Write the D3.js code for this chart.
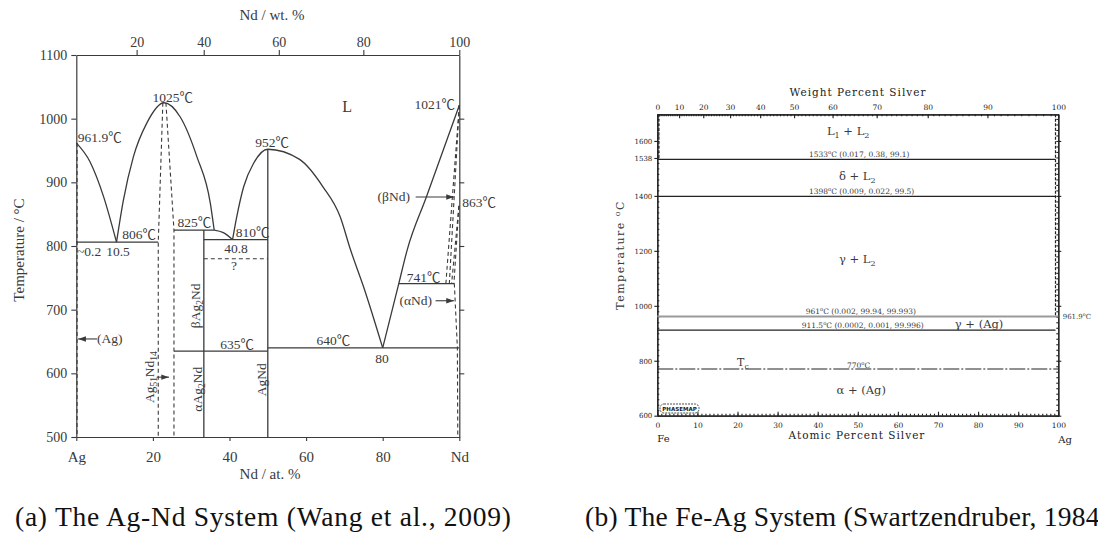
<!DOCTYPE html>
<html>
<head>
<meta charset="utf-8">
<script src="https://cdn.jsdelivr.net/npm/d3@7"></script>
<style>
body { margin: 0; background: #fff; }
svg { display: block; }
</style>
</head>
<body>
<svg width="1098" height="537"></svg>
<script>
// ---------- (a) Ag-Nd : x = at.% Nd, y = temperature (C)
var agNdTempTicks = [500, 600, 700, 800, 900, 1000, 1100];
var agNdAtTicks = [0, 20, 40, 60, 80, 100];
var agNdAtLabels = ["Ag", "20", "40", "60", "80", "Nd"];
var agNdWtTicks = [20, 40, 60, 80, 100];

// liquidus pieces
var liqAg = [[0, 961.9], [3.6, 932], [7.1, 878], [10.5, 806]];
var liqPeak = [[10.5, 806], [12.3, 872], [14.9, 940], [18.4, 993], [22.9, 1025], [27.1, 1003], [31.5, 940], [35.0, 867], [36.0, 825]];
var liqShoulder = [[36.0, 825], [38.4, 821], [40.8, 810]];
var liqAgNd = [[40.8, 810], [41.9, 846], [43.7, 893], [46.3, 930], [50, 952], [58.3, 936], [64.4, 893], [68.9, 846], [71.6, 794], [75.0, 736], [80, 640]];
var liqNd = [[80, 640], [84.2, 741], [86.4, 794], [91.4, 877], [100, 1021]];

// invariant lines [x1, x2, T]
var isoSolid = [[0, 21.4, 806], [25.5, 36.0, 825], [33.3, 50, 810], [25.5, 50, 635], [50, 100, 640], [84.2, 98.7, 741]];
var isoDashed = [[33.3, 50, 780]];
// compound lines [x, Ttop, Tbottom]
var compSolid = [[33.3, 825, 500], [50, 952, 500]];
// dashed phase boundaries
var dashedBounds = [
  [[0.2, 961.9], [0.2, 500]],
  [[22.6, 1025], [21.4, 806], [21.4, 500]],
  [[23.4, 1025], [25.5, 825], [25.5, 500]],
  [[100, 1021], [96.5, 741]],
  [[100, 1021], [97.4, 741]],
  [[99.9, 863], [98.0, 741]],
  [[99.9, 863], [98.6, 741]],
  [[98.7, 741], [99.5, 640], [99.6, 500]]
];
// arrows [xFrom, xTo, T]
var arrowsA = [[88.6, 98.6, 877], [93.8, 98.6, 714], [5.4, 0.5, 654], [21.0, 24.2, 594]];

// ---------- (b) Fe-Ag : x = at.% Ag, y = temperature (C)
var feAgTempTicks = [600, 800, 1000, 1200, 1400, 1538, 1600];
var feAgAtTicks = [0, 10, 20, 30, 40, 50, 60, 70, 80, 90, 100];
var feAgWtTicks = [0, 10, 20, 30, 40, 50, 60, 70, 80, 90, 100];
var feAgIsoBlack = [1533, 1398, 911.5];
var feAgIsoGray = [961];
var feAgCurie = [770];
var feAgDashed = [
  [[0.4, 1697], [0.4, 1538]],
  [[99.3, 1697], [99.3, 961.9]]
];

var svg = d3.select("svg");
var serif = "'Liberation Serif', 'Noto Sans CJK SC', serif";
var serifB = "'DejaVu Serif', serif";
var ink = "#3a3a3a";
var plain = d3.format("d");

function wtNdToAt(w) { var a = w / 144.24, b = (100 - w) / 107.87; return 100 * a / (a + b); }
function wtAgToAt(w) { var a = w / 107.87, b = (100 - w) / 55.845; return 100 * a / (a + b); }

function styleAxis(g, size, fam, col) {
  g.attr("font-family", fam).attr("font-size", size);
  g.selectAll("path.domain").attr("stroke", col).attr("stroke-width", 1.2);
  g.selectAll(".tick line").attr("stroke", col).attr("stroke-width", 1.1);
  g.selectAll(".tick text").attr("fill", col);
}

// rich text: parts = [[string, "sub"|"sup"|null], ...]
function rich(g, parts, x, y, size, fam, anchor, rotate) {
  var t = g.append("text")
      .attr("font-family", fam)
      .attr("font-size", size)
      .attr("fill", ink)
      .attr("text-anchor", anchor || "start");
  if (rotate) t.attr("transform", "translate(" + x + "," + y + ") rotate(" + rotate + ")");
  else t.attr("x", x).attr("y", y);
  parts.forEach(function(p) {
    var s = t.append("tspan").text(p[0]);
    if (p[1] == "sub") s.attr("font-size", size * 0.7).attr("baseline-shift", -size * 0.25);
    if (p[1] == "sup") s.attr("font-size", size * 0.7).attr("baseline-shift", size * 0.4);
  });
  return t;
}

// ================= (a)
var xL = d3.scaleLinear().domain([0, 100]).range([76.3, 459.3]);
var yL = d3.scaleLinear().domain([500, 1100]).range([437, 55]);
var wtGridL = d3.range(0, 100.5, 1);
var xWtL = d3.scaleLinear().domain(wtGridL).range(wtGridL.map(function(w) { return xL(wtNdToAt(w)); }));

var gA = svg.append("g");

gA.append("defs").append("marker")
    .attr("id", "arr")
    .attr("viewBox", "0 0 10 10")
    .attr("refX", 10).attr("refY", 5)
    .attr("markerWidth", 7).attr("markerHeight", 7)
    .attr("orient", "auto-start-reverse")
  .append("path")
    .attr("d", "M0,1.5 L10,5 L0,8.5 z")
    .attr("fill", ink);

gA.append("g").attr("transform", "translate(76.3,0)")
    .call(d3.axisLeft(yL).tickValues(agNdTempTicks).tickFormat(plain).tickSize(5).tickPadding(4).tickSizeOuter(0))
    .call(styleAxis, 14, serif, ink);
gA.append("g").attr("transform", "translate(459.3,0)")
    .call(d3.axisRight(yL).tickValues([600, 700, 800, 900, 1000]).tickSize(5).tickFormat("").tickSizeOuter(0))
    .call(styleAxis, 14, serif, ink);
gA.append("g").attr("transform", "translate(0,437)")
    .call(d3.axisBottom(xL).tickValues(agNdAtTicks).tickSize(4).tickPadding(10).tickSizeOuter(0)
      .tickFormat(function(d, i) { return agNdAtLabels[i]; }))
    .call(styleAxis, 15, serif, ink);
gA.append("g").attr("transform", "translate(0,55)")
    .call(d3.axisTop(xWtL).tickValues(agNdWtTicks).tickFormat(plain).tickSize(5).tickPadding(3).tickSizeOuter(0))
    .call(styleAxis, 14, serif, ink);

gA.append("text").attr("x", 272).attr("y", 20).attr("text-anchor", "middle")
    .attr("font-family", serif).attr("font-size", 15).attr("fill", ink).text("Nd / wt. %");
gA.append("text").attr("x", 270).attr("y", 479).attr("text-anchor", "middle")
    .attr("font-family", serif).attr("font-size", 15).attr("fill", ink).text("Nd / at. %");
gA.append("text").attr("transform", "translate(24,250) rotate(-90)").attr("text-anchor", "middle")
    .attr("font-family", serif).attr("font-size", 15).attr("fill", ink).text("Temperature / \u00b0C");

var lineL = d3.line()
    .x(function(d) { return xL(d[0]); })
    .y(function(d) { return yL(d[1]); });
var curveL = d3.line()
    .x(function(d) { return xL(d[0]); })
    .y(function(d) { return yL(d[1]); })
    .curve(d3.curveMonotoneX);

gA.selectAll("path.liq")
    .data([liqAg, liqPeak, liqShoulder, liqAgNd, liqNd])
    .enter().append("path")
      .attr("class", "liq")
      .attr("d", curveL)
      .attr("fill", "none").attr("stroke", ink).attr("stroke-width", 1.3);

gA.selectAll("line.iso")
    .data(isoSolid)
    .enter().append("line")
      .attr("x1", function(d) { return xL(d[0]); })
      .attr("x2", function(d) { return xL(d[1]); })
      .attr("y1", function(d) { return yL(d[2]); })
      .attr("y2", function(d) { return yL(d[2]); })
      .attr("stroke", ink).attr("stroke-width", 1.3);

gA.selectAll("line.isod")
    .data(isoDashed)
    .enter().append("line")
      .attr("x1", function(d) { return xL(d[0]); })
      .attr("x2", function(d) { return xL(d[1]); })
      .attr("y1", function(d) { return yL(d[2]); })
      .attr("y2", function(d) { return yL(d[2]); })
      .attr("stroke", ink).attr("stroke-width", 1.1).attr("stroke-dasharray", "4,3");

gA.selectAll("line.comp")
    .data(compSolid)
    .enter().append("line")
      .attr("x1", function(d) { return xL(d[0]); })
      .attr("x2", function(d) { return xL(d[0]); })
      .attr("y1", function(d) { return yL(d[1]); })
      .attr("y2", function(d) { return yL(d[2]); })
      .attr("stroke", ink).attr("stroke-width", 1.3);

gA.selectAll("path.dash")
    .data(dashedBounds)
    .enter().append("path")
      .attr("d", lineL)
      .attr("fill", "none").attr("stroke", ink).attr("stroke-width", 1.1).attr("stroke-dasharray", "4,3");

gA.selectAll("line.arrow")
    .data(arrowsA)
    .enter().append("line")
      .attr("x1", function(d) { return xL(d[0]); })
      .attr("x2", function(d) { return xL(d[1]); })
      .attr("y1", function(d) { return yL(d[2]); })
      .attr("y2", function(d) { return yL(d[2]); })
      .attr("stroke", ink).attr("stroke-width", 1.1)
      .attr("marker-end", "url(#arr)");

// annotations [text, at.%, T, anchor]
var labelsA = [
  ["961.9\u2103", 0.4, 963, "start"],
  ["1025\u2103", 25.2, 1026, "middle"],
  ["806\u2103", 12.0, 811, "start"],
  ["~0.2", 0.2, 785, "start"],
  ["10.5", 7.8, 785, "start"],
  ["825\u2103", 26.4, 830, "start"],
  ["810\u2103", 41.6, 814.5, "start"],
  ["40.8", 38.6, 789.5, "start"],
  ["?", 41.2, 763, "middle"],
  ["952\u2103", 46.7, 955.5, "start"],
  ["1021\u2103", 98.9, 1015, "end"],
  ["(\u03b2Nd)", 87.1, 871, "end"],
  ["863\u2103", 100.8, 861, "start"],
  ["741\u2103", 86.3, 743.5, "start"],
  ["(\u03b1Nd)", 92.9, 707.5, "end"],
  ["635\u2103", 42.0, 638, "middle"],
  ["640\u2103", 67.1, 644.5, "middle"],
  ["80", 79.8, 616.5, "middle"],
  ["(Ag)", 5.4, 648, "start"]
];
gA.selectAll("text.lab")
    .data(labelsA)
    .enter().append("text")
      .attr("x", function(d) { return xL(d[1]); })
      .attr("y", function(d) { return yL(d[2]); })
      .attr("text-anchor", function(d) { return d[3]; })
      .attr("font-family", serif).attr("font-size", 13.5).attr("fill", ink)
      .text(function(d) { return d[0]; });

gA.append("text").attr("x", xL(70.7)).attr("y", yL(1010)).attr("text-anchor", "middle")
    .attr("font-family", serif).attr("font-size", 16).attr("fill", ink).text("L");

rich(gA, [["\u03b2Ag", null], ["2", "sub"], ["Nd", null]], xL(31.0) + 5, yL(706), 13.5, serif, "middle", -90);
rich(gA, [["Ag", null], ["51", "sub"], ["Nd", null], ["14", "sub"]], xL(19.5) + 3, yL(594), 13.5, serif, "middle", -90);
rich(gA, [["\u03b1Ag", null], ["2", "sub"], ["Nd", null]], xL(31.6) + 5, yL(575), 13.5, serif, "middle", -90);
rich(gA, [["AgNd", null]], xL(48.3) + 5, yL(590), 13.5, serif, "middle", -90);

// ================= (b)
var xR = d3.scaleLinear().domain([0, 100]).range([657.3, 1058.3]);
var yR = d3.scaleLinear().domain([600, 1697]).range([415.7, 114.3]);
var wtGridR = d3.range(0, 100.5, 1);
var xWtR = d3.scaleLinear().domain(wtGridR).range(wtGridR.map(function(w) { return xR(wtAgToAt(w)); }));

var gB = svg.append("g");
var inkB = "#222";

gB.append("g").attr("transform", "translate(657.3,0)")
    .call(d3.axisLeft(yR).tickValues(d3.range(600, 1697, 20)).tickSize(-2).tickFormat("").tickSizeOuter(0))
    .call(styleAxis, 7, serifB, inkB);
gB.append("g").attr("transform", "translate(657.3,0)")
    .call(d3.axisLeft(yR).tickValues(feAgTempTicks).tickFormat(plain).tickSize(3).tickPadding(2).tickSizeOuter(0))
    .call(styleAxis, 7, serifB, inkB);
gB.append("g").attr("transform", "translate(1058.3,0)")
    .call(d3.axisRight(yR).tickValues(d3.range(600, 1697, 20)).tickSize(-2).tickFormat("").tickSizeOuter(0))
    .call(styleAxis, 7, serifB, inkB);
gB.append("g").attr("transform", "translate(1058.3,0)")
    .call(d3.axisRight(yR).tickValues([600, 800, 1000, 1200, 1400, 1600]).tickSize(3).tickFormat("").tickSizeOuter(0))
    .call(styleAxis, 7, serifB, inkB);
gB.append("g").attr("transform", "translate(0,415.7)")
    .call(d3.axisBottom(xR).tickValues(d3.range(0, 100, 1)).tickSize(-2).tickFormat("").tickSizeOuter(0))
    .call(styleAxis, 7.5, serifB, inkB);
gB.append("g").attr("transform", "translate(0,415.7)")
    .call(d3.axisBottom(xR).tickValues(feAgAtTicks).tickFormat(plain).tickSize(-4).tickPadding(7).tickSizeOuter(0))
    .call(styleAxis, 7.5, serifB, inkB);
gB.append("g").attr("transform", "translate(0,114.3)")
    .call(d3.axisTop(xWtR).tickValues(d3.range(0, 100, 1)).tickSize(-2).tickFormat("").tickSizeOuter(0))
    .call(styleAxis, 7.5, serifB, inkB);
gB.append("g").attr("transform", "translate(0,114.3)")
    .call(d3.axisTop(xWtR).tickValues(feAgWtTicks).tickFormat(plain).tickSize(-4).tickPadding(4).tickSizeOuter(0))
    .call(styleAxis, 7.5, serifB, inkB);

gB.append("text").attr("x", 858).attr("y", 96).attr("text-anchor", "middle")
    .attr("font-family", serifB).attr("font-size", 10.5).attr("letter-spacing", 1).attr("fill", inkB)
    .text("Weight Percent Silver");
gB.append("text").attr("x", 857).attr("y", 439).attr("text-anchor", "middle")
    .attr("font-family", serifB).attr("font-size", 10.5).attr("letter-spacing", 1).attr("fill", inkB)
    .text("Atomic Percent Silver");
gB.append("text").attr("x", xR(0)).attr("y", 442).attr("text-anchor", "start")
    .attr("font-family", serifB).attr("font-size", 10).attr("fill", inkB).text("Fe");
gB.append("text").attr("x", xR(100)).attr("y", 443).attr("text-anchor", "start")
    .attr("font-family", serifB).attr("font-size", 10).attr("fill", inkB).text("Ag");
rich(gB, [["Temperature ", null], ["o", "sup"], ["C", null]], 624, 255, 11, serifB, "middle", -90)
    .attr("letter-spacing", 1.5);

gB.selectAll("line.isoB")
    .data(feAgIsoBlack)
    .enter().append("line")
      .attr("x1", xR(0)).attr("x2", xR(99.3))
      .attr("y1", function(d) { return yR(d); })
      .attr("y2", function(d) { return yR(d); })
      .attr("stroke", inkB).attr("stroke-width", 1.2);
gB.selectAll("line.isoG")
    .data(feAgIsoGray)
    .enter().append("line")
      .attr("x1", xR(0)).attr("x2", xR(100))
      .attr("y1", function(d) { return yR(d); })
      .attr("y2", function(d) { return yR(d); })
      .attr("stroke", "#9a9a9a").attr("stroke-width", 1.8);
gB.selectAll("line.curie")
    .data(feAgCurie)
    .enter().append("line")
      .attr("x1", xR(0)).attr("x2", xR(100))
      .attr("y1", function(d) { return yR(d); })
      .attr("y2", function(d) { return yR(d); })
      .attr("stroke", inkB).attr("stroke-width", 1.2).attr("stroke-dasharray", "16,2,2,2");

var lineR = d3.line()
    .x(function(d) { return xR(d[0]); })
    .y(function(d) { return yR(d[1]); });
gB.selectAll("path.dashB")
    .data(feAgDashed)
    .enter().append("path")
      .attr("d", lineR)
      .attr("fill", "none").attr("stroke", inkB).attr("stroke-width", 1.2).attr("stroke-dasharray", "3,1.5");

// annotations in at.% Ag / C
var fs = 7.5;
rich(gB, [["1533", null], ["o", "sup"], ["C (0.017, 0.38, 99.1)", null]], xR(37.8), yR(1541), fs, serifB);
rich(gB, [["1398", null], ["o", "sup"], ["C (0.009, 0.022, 99.5)", null]], xR(37.8), yR(1406), fs, serifB);
rich(gB, [["961", null], ["o", "sup"], ["C (0.002, 99.94, 99.993)", null]], xR(37.0), yR(970), fs, serifB);
rich(gB, [["911.5", null], ["o", "sup"], ["C (0.0002, 0.001, 99.996)", null]], xR(36.0), yR(919), fs, serifB);
rich(gB, [["770", null], ["o", "sup"], ["C", null]], xR(47.3), yR(775), fs, serifB);
rich(gB, [["961.9", null], ["o", "sup"], ["C", null]], xR(101.1), yR(953), 7, serifB);
rich(gB, [["T", null], ["c", "sub"]], xR(19.9), yR(781), 11, serifB);
rich(gB, [["L", null], ["1", "sub"], [" + L", null], ["2", "sub"]], xR(42.3), yR(1622), 11.5, serifB);
rich(gB, [["\u03b4 + L", null], ["2", "sub"]], xR(45.3), yR(1458), 11.5, serifB);
rich(gB, [["\u03b3 + L", null], ["2", "sub"]], xR(45.3), yR(1156), 11.5, serifB);
rich(gB, [["\u03b3 + (Ag)", null]], xR(74.2), yR(919), 11.5, serifB);
rich(gB, [["\u03b1 + (Ag)", null]], xR(44.7), yR(679), 11.5, serifB);

// PHASEMAP badge
gB.append("rect").attr("x", 660).attr("y", 404).attr("width", 39).attr("height", 9).attr("rx", 4)
    .attr("fill", "#fff").attr("stroke", inkB).attr("stroke-width", 0.8).attr("stroke-dasharray", "2,1");
gB.append("text").attr("x", 679.5).attr("y", 411).attr("text-anchor", "middle")
    .attr("font-family", "'DejaVu Sans', sans-serif").attr("font-size", 5.5).attr("font-weight", "bold")
    .attr("fill", inkB).text("PHASEMAP");

// ================= captions
svg.append("text").attr("x", 15).attr("y", 526)
    .attr("font-family", serif).attr("font-size", 27.5).attr("fill", "#111")
    .attr("textLength", 496).attr("lengthAdjust", "spacing")
    .text("(a) The Ag-Nd System (Wang et al., 2009)");
svg.append("text").attr("x", 585).attr("y", 526)
    .attr("font-family", serif).attr("font-size", 27.5).attr("fill", "#111")
    .attr("textLength", 524).attr("lengthAdjust", "spacing")
    .text("(b) The Fe-Ag System (Swartzendruber, 1984)");
</script>
</body>
</html>
